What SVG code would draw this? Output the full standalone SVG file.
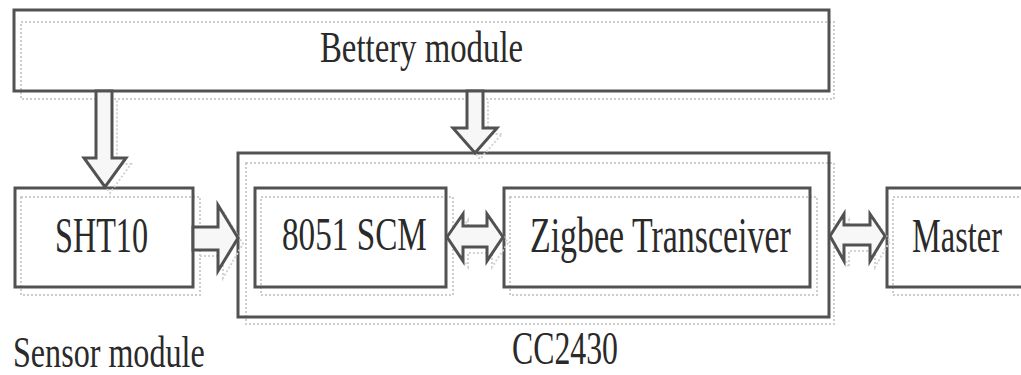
<svg xmlns="http://www.w3.org/2000/svg" width="1021" height="375" viewBox="0 0 1021 375">
<style>
.box{fill:none;stroke:#525252;stroke-width:3}
.sh{fill:none;stroke:#cdcdcd;stroke-width:2;stroke-dasharray:2 2}
.arr{fill:#f7f7f7;stroke:#525252;stroke-width:3;stroke-linejoin:miter}
.ash{fill:none;stroke:#d2d2d2;stroke-width:2;stroke-dasharray:2 2}
.t{font-family:"Liberation Serif","Times New Roman",serif;fill:#2a2a2a}
</style>
<rect width="1021" height="375" fill="#ffffff"/>
<g id="battery">
<rect class="sh" x="21" y="22" width="813" height="77"/>
<rect class="box" x="14" y="10" width="815" height="81"/>
<text class="t" transform="translate(320,62) scale(1,1.34)" x="0" y="0" font-size="32.8">Bettery module</text>
</g>
<g id="sht10">
<rect class="sh" x="21" y="197" width="179" height="98"/>
<rect class="box" x="15" y="188" width="178" height="99"/>
<text class="t" transform="translate(55,252) scale(1,1.55)" x="0" y="0" font-size="32.2">SHT10</text>
</g>
<g id="sensor-label">
<text class="t" transform="translate(13,367) scale(1,1.4)" x="0" y="0" font-size="32.1">Sensor module</text>
</g>
<g id="cc2430">
<rect class="sh" x="246" y="163" width="588" height="161"/>
<rect class="box" x="238" y="153" width="591" height="164"/>
<text class="t" transform="translate(512,364) scale(1,1.45)" x="0" y="0" font-size="31.8">CC2430</text>
</g>
<g id="scm8051">
<rect class="sh" x="261" y="197" width="192" height="98"/>
<rect class="box" x="255" y="188" width="191" height="99"/>
<text class="t" transform="translate(282,250) scale(1,1.41)" x="0" y="0" font-size="33.2">8051 SCM</text>
</g>
<g id="zigbee">
<rect class="sh" x="510" y="197" width="307" height="98"/>
<rect class="box" x="504" y="188" width="306" height="99"/>
<text class="t" transform="translate(530,252) scale(1,1.47)" x="0" y="0" font-size="33.9">Zigbee Transceiver</text>
</g>
<g id="master">
<rect class="sh" x="893" y="197" width="140" height="98"/>
<rect class="box" x="887" y="188" width="145" height="99"/>
<text class="t" transform="translate(912,252) scale(1,1.5)" x="0" y="0" font-size="32.4">Master</text>
</g>
<g id="connectors">
<path class="ash" d="M101,99 L101,164 L89,164 L110,193 L131,164 L117,164 L117,99"/>
<path class="arr" d="M96,91 L96,158 L84,158 L105,187 L126,158 L112,158 L112,91 Z"/>
<path class="ash" d="M472,99 L472,134 L458,134 L480,159 L502,134 L488,134 L488,99"/>
<path class="arr" d="M467,91 L467,128 L453,128 L475,153 L497,128 L483,128 L483,91 Z"/>
<path class="ash" d="M198,233 L223,233 L223,211 L243,244 L223,278 L223,256 L198,256"/>
<path class="arr" d="M193,227 L218,227 L218,205 L238,238 L218,271 L218,250 L193,250 Z"/>
<path class="ash" d="M452,243 L468,220 L468,232 L492,232 L492,220 L508,243 L492,267 L492,253 L468,253 L468,267 Z"/>
<path class="arr" d="M447,237 L463,214 L463,226 L487,226 L487,214 L503,237 L487,261 L487,247 L463,247 L463,261 Z"/>
<path class="ash" d="M835,241 L849,220 L849,231 L875,231 L875,220 L890,241 L875,267 L875,251 L849,251 L849,267 Z"/>
<path class="arr" d="M830,236 L844,214 L844,225 L870,225 L870,214 L885,236 L870,261 L870,245 L844,245 L844,261 Z"/>
</g>
</svg>
